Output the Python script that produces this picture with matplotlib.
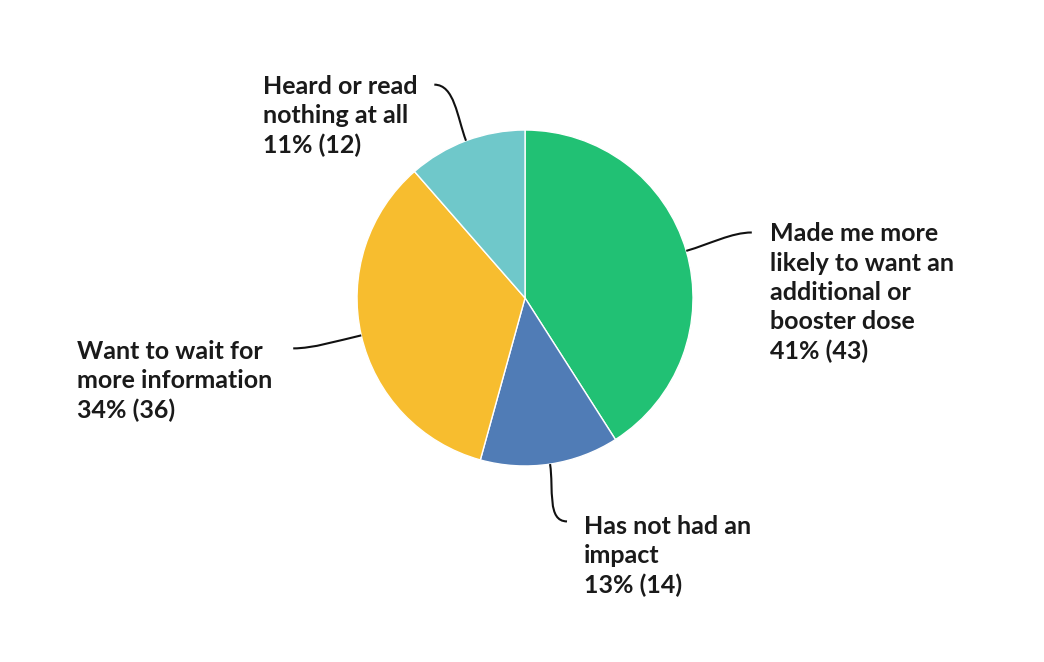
import numpy as np
import matplotlib.pyplot as plt
from matplotlib.path import Path
from matplotlib.patches import PathPatch

# answers and counts, clockwise from 12 o'clock
labels = ['Made me more\nlikely to want an\nadditional or\nbooster dose',
          'Has not had an\nimpact',
          'Want to wait for\nmore information',
          'Heard or read\nnothing at all']
counts = [43, 14, 36, 12]
percents = [41, 13, 34, 11]
colors = ['#21c174', '#507cb6', '#f7bd2f', '#6fc8ca']

# where each label's leader line ends (pie radius = 1) and where its text starts
line_ends = [(1.35, 0.39), (0.25, -1.33), (-1.38, -0.30), (-0.54, 1.27)]
text_pos = [(1.46, 0.45), (0.35, -1.29), (-2.67, -0.25), (-1.56, 1.33)]

plt.rcParams['font.family'] = ['Lato', 'DejaVu Sans']

fig = plt.figure(figsize=(10.44, 6.62), dpi=100)
ax = fig.add_axes([0, 0, 1, 1])

wedges, _ = ax.pie(counts, colors=colors, startangle=90, counterclock=False,
                   radius=1, center=(0, 0), frame=True,
                   wedgeprops=dict(linewidth=1, edgecolor='white'))
ax.set_xlim(-3.125, 3.089)
ax.set_ylim(-2.167, 1.774)
ax.set_aspect('equal')
ax.axis('off')

for i, w in enumerate(wedges):
    mid = np.deg2rad((w.theta1 + w.theta2) / 2)
    p0 = np.array([np.cos(mid), np.sin(mid)])
    p3 = np.array(line_ends[i])
    side = 1 if p3[0] > p0[0] else -1
    p1 = p0 + p0 * 0.15
    p2 = p3 - np.array([side * 0.12, 0])
    path = Path([p0, p1, p2, p3], [Path.MOVETO, Path.CURVE4, Path.CURVE4, Path.CURVE4])
    ax.add_patch(PathPatch(path, fill=False, edgecolor='#111111', linewidth=1.5))
    tx, ty = text_pos[i]
    ax.text(tx, ty, labels[i] + '\n%d%% (%d)' % (percents[i], counts[i]),
            ha='left', va='top', fontsize=18, fontweight='bold', color='#1a1a1a',
            linespacing=1.33)

fig.savefig('out.png', dpi=100)
